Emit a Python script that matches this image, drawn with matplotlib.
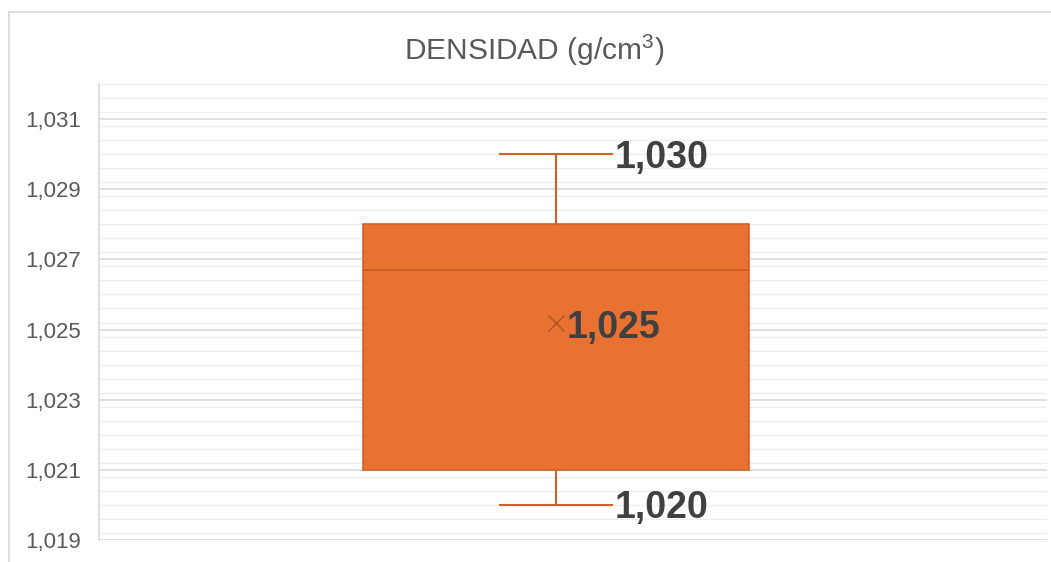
import matplotlib
matplotlib.use("Agg")
import matplotlib.pyplot as plt
from matplotlib.patches import Rectangle
from matplotlib.ticker import MultipleLocator, FuncFormatter

plt.rcParams["mathtext.fontset"] = "custom"
plt.rcParams["mathtext.rm"] = "Liberation Sans"
plt.rcParams["mathtext.it"] = "Liberation Sans:italic"
plt.rcParams["mathtext.bf"] = "Liberation Sans:bold"

# ---- data ----
title = r"DENSIDAD (g/cm$^{\mathregular{3}}$)"
stat_min = 1.020
stat_q1 = 1.021
stat_median = 1.0267
stat_q3 = 1.0280
stat_max = 1.030
stat_mean = 1.0252
y_ticks = [1.019, 1.021, 1.023, 1.025, 1.027, 1.029, 1.031]

W, H = 1051, 562
fig = plt.figure(figsize=(W / 100, H / 100), dpi=100)
fig.patch.set_facecolor("white")

# outer chart frame
fig.add_artist(Rectangle((9 / W, -0.1), 1.2, (H - 12) / H + 0.1, transform=fig.transFigure,
                         fill=False, edgecolor="#d9d9d9", lw=1.2))

ax = fig.add_axes([99 / W, 1 - 540 / H, (1047 - 99) / W, (540 - 84) / H])

stats = [dict(whislo=stat_min, q1=stat_q1, med=stat_median, q3=stat_q3,
              whishi=stat_max, mean=stat_mean, fliers=[])]
pos = 0.482
orange = "#E97132"
edge = "#CF6128"
ax.bxp(stats, positions=[pos], widths=0.407, patch_artist=True, showmeans=True,
       boxprops=dict(facecolor=orange, edgecolor=edge, lw=1.2),
       medianprops=dict(color="#C85A22", lw=1.2),
       whiskerprops=dict(color=edge, lw=1.5),
       capprops=dict(color=edge, lw=1.5), capwidths=0.118,
       meanprops=dict(marker="x", markeredgecolor="#A8552A", markersize=11, markeredgewidth=1.0),
       zorder=3)

ax.set_xlim(0, 1)
ax.set_ylim(1.019, 1.032)
ax.set_xticks([])
ax.set_yticks(y_ticks)
ax.yaxis.set_minor_locator(MultipleLocator(0.0004))
ax.yaxis.set_major_formatter(FuncFormatter(lambda v, p: f"{v:.3f}".replace(".", ",")))
ax.tick_params(axis="y", which="both", length=0, pad=13, labelsize=16, labelcolor="#595959")
for lab in ax.get_yticklabels():
    lab.set_fontfamily("Liberation Sans")

ax.grid(True, which="major", axis="y", color="#d9d9d9", lw=1.2, zorder=0)
ax.grid(True, which="minor", axis="y", color="#eeeeee", lw=1.0, zorder=0)
ax.set_axisbelow(True)
for s in ["top", "right", "bottom"]:
    ax.spines[s].set_visible(False)
ax.spines["left"].set_color("#d9d9d9")
ax.spines["left"].set_linewidth(1.2)

lab_kw = dict(fontsize=27, fontweight="bold", color="#404040", family="Liberation Sans",
              va="center", ha="left", zorder=5)
ax.text(pos + 0.062, stat_max - 0.0001, f"{stat_max:.3f}".replace(".", ","), **lab_kw)
ax.text(pos + 0.062, stat_min - 0.00009, f"{stat_min:.3f}".replace(".", ","), **lab_kw)
ax.text(pos + 0.011, stat_mean - 0.00015, f"{stat_mean:.3f}".replace(".", ","), **lab_kw)

fig.text(534 / W, 1 - 50 / H, title, ha="center", va="center", fontsize=21.5,
         color="#595959", family="Liberation Sans")

fig.savefig("out.png", dpi=100)
